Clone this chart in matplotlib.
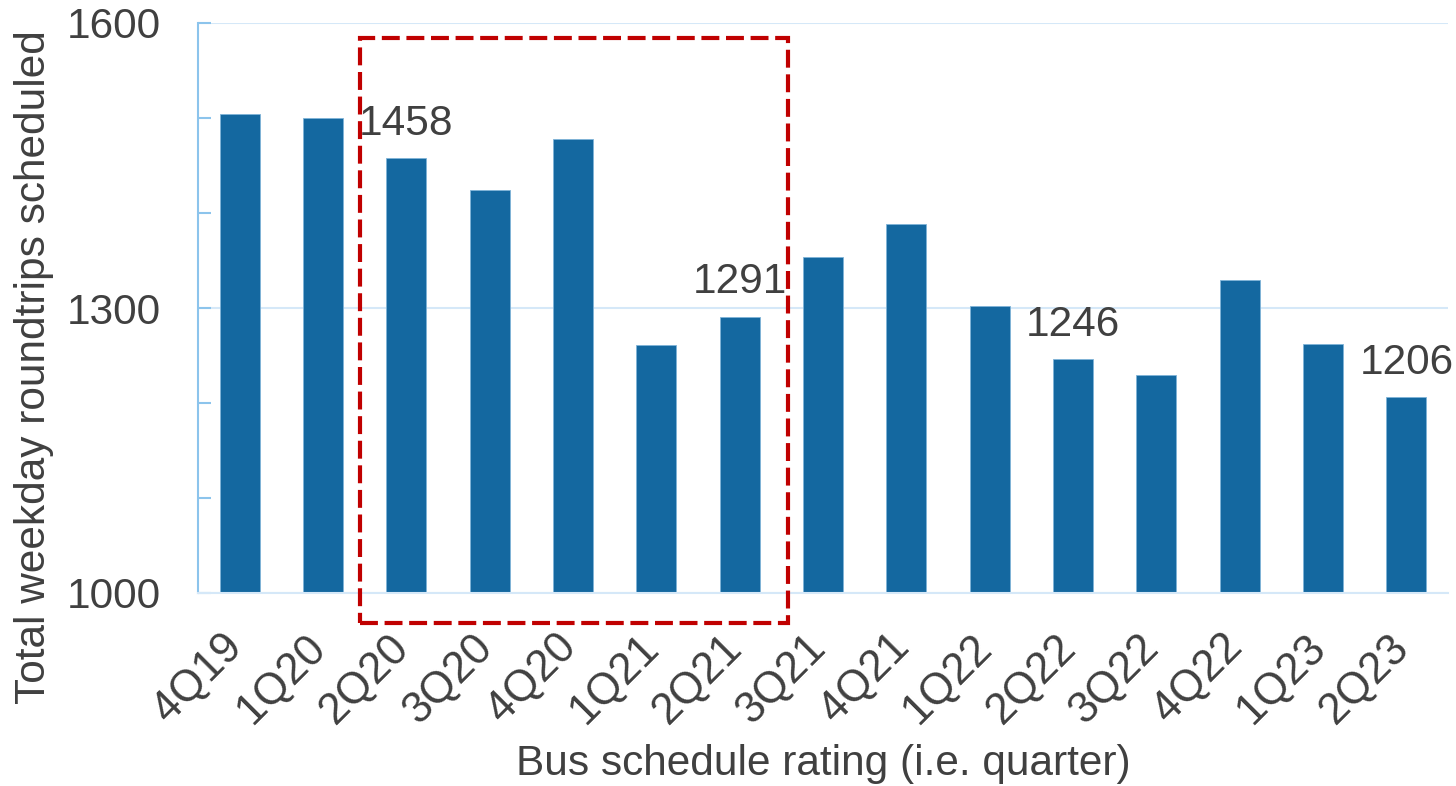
import matplotlib
matplotlib.use("Agg")
import matplotlib.pyplot as plt
import matplotlib.transforms as mtransforms
from matplotlib.patches import Rectangle

quarters = ["4Q19", "1Q20", "2Q20", "3Q20", "4Q20", "1Q21", "2Q21", "3Q21",
            "4Q21", "1Q22", "2Q22", "3Q22", "4Q22", "1Q23", "2Q23"]
roundtrips = [1504, 1500, 1458, 1424, 1478, 1261, 1291, 1354,
              1388, 1302, 1246, 1230, 1330, 1262, 1206]
labelled = ["2Q20", "2Q21", "2Q22", "2Q23"]
major_ticks = [1000, 1300, 1600]
minor_ticks = [1100, 1200, 1400, 1500]

TEXT = "#404040"
BAR = "#1468A0"

plt.rcParams["font.family"] = ["Liberation Sans", "DejaVu Sans"]

fig = plt.figure(figsize=(14.56, 7.86), dpi=100)
ax = fig.add_axes([198 / 1456, 1 - 593 / 786, 1250 / 1456, 570 / 786])

x = range(len(quarters))
ax.bar(x, roundtrips, width=0.48, color=BAR, edgecolor="#7fb3d8", linewidth=0.6, zorder=2)

for i, (q, v) in enumerate(zip(quarters, roundtrips)):
    if q in labelled:
        ax.text(i, v + 15, str(v), ha="center", va="bottom", fontsize=30.5, color=TEXT)

ax.set_xlim(-0.5, 14.5)
ax.set_ylim(1000, 1600)
ax.set_yticks(major_ticks)
ax.set_yticks(minor_ticks, minor=True)
ax.grid(True, axis="y", which="major", color="#d5e8f8", linewidth=1.5, zorder=0)

for side in ["top", "right"]:
    ax.spines[side].set_visible(False)
ax.spines["left"].set_color("#8cc4ec")
ax.spines["left"].set_linewidth(1.5)
ax.spines["bottom"].set_color("#d5e8f8")
ax.spines["bottom"].set_linewidth(1.5)

ax.tick_params(axis="y", which="both", direction="in", length=9, width=1.5,
               color="#8cc4ec", labelsize=30.5, labelcolor=TEXT, pad=27)
ax.tick_params(axis="x", length=0, labelsize=31.5, labelcolor=TEXT, pad=14)
ax.set_xticks(list(x))
ax.set_xticklabels(quarters, rotation=45, ha="right", rotation_mode="anchor")
shift = mtransforms.ScaledTranslation(-18 / 100, -14 / 100, fig.dpi_scale_trans)
for lbl in ax.get_xticklabels():
    lbl.set_transform(lbl.get_transform() + shift)

ax.set_ylabel("Total weekday roundtrips scheduled", fontsize=30.5, color=TEXT, va="center")
ax.yaxis.set_label_coords((34 - 198) / 1250, (593 - 367) / 570)
ax.set_xlabel("Bus schedule rating (i.e. quarter)", fontsize=30.5, color=TEXT, va="center")
ax.xaxis.set_label_coords(0.5, (593 - 764) / 570)

# highlight box around the 2Q20-2Q21 period
box = Rectangle((1.44, 968), 6.58 - 1.44, 1584 - 968, fill=False,
                edgecolor="#c00000", linewidth=3, linestyle=(0, (4.3, 1.6)),
                clip_on=False, zorder=3)
ax.add_patch(box)

fig.savefig("out.png", dpi=100)
